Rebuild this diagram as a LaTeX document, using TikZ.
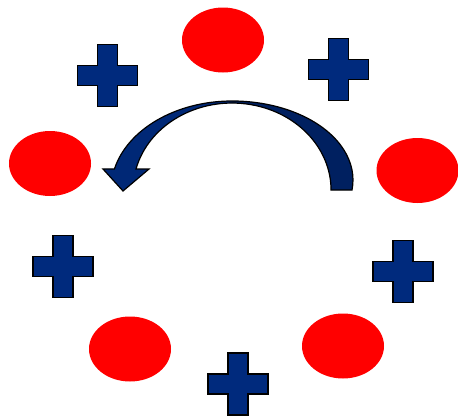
\documentclass[tikz,border=0pt]{standalone}
\usetikzlibrary{shapes.geometric}
\definecolor{dotred}{RGB}{255,0,0}
\definecolor{crossblue}{RGB}{0,42,125}
\definecolor{arrowfront}{RGB}{0,40,118}
\definecolor{arrowback}{RGB}{0,32,96}
\tikzset{
  reddot/.style={ellipse, fill=dotred, draw=none, inner sep=0pt, minimum width=82pt, minimum height=65pt},
  crosssign/.pic={
    \draw[fill=crossblue, draw=black, line width=1.2pt, line join=miter]
      (-10,-31) -- (10,-31) -- (10,-10) -- (30,-10) -- (30,10) -- (10,10) -- (10,31)
      -- (-10,31) -- (-10,10) -- (-30,10) -- (-30,-10) -- (-10,-10) -- cycle;
  }
}
\begin{document}
\begin{tikzpicture}[x=1pt,y=-1pt]
\useasboundingbox (0,0) rectangle (458,418);
% red dots
\node[reddot] (etop) at (223,40) {};
\node[reddot] (eleft) at (50,163.5) {};
\node[reddot] (eright) at (417.5,170.5) {};
\node[reddot] (ebl) at (130,349) {};
\node[reddot] (ebr) at (343,346) {};
% crosses
\pic (ctl) at (107.5,75.5) {crosssign};
\pic (ctr) at (338.5,69.5) {crosssign};
\pic (cl) at (63,266.5) {crosssign};
\pic (cr) at (403,271.5) {crosssign};
\pic (cb) at (238,384) {crosssign};
% curved arrow
\coordinate (atop) at (232,101);
% back (right) part
\fill[arrowback] (atop) arc[start angle=-90, end angle=7.3, x radius=121, y radius=79]
  -- (331,190) arc[start angle=0, end angle=-90, x radius=99, y radius=87] -- cycle;
% front (left) part with head
\fill[arrowfront] (atop) arc[start angle=-90, end angle=-166.3, x radius=121, y radius=89]
  -- (103,169) -- (123,191) -- (149,169) -- (136,169)
  arc[start angle=-166, end angle=-90, x radius=99, y radius=87] -- cycle;
% outline
\draw[black, line width=1.2pt, line join=miter]
  (atop) arc[start angle=-90, end angle=-166.3, x radius=121, y radius=89]
  -- (103,169) -- (123,191) -- (149,169) -- (136,169)
  arc[start angle=-166, end angle=0, x radius=99, y radius=87]
  -- (352,190) arc[start angle=7.3, end angle=-90, x radius=121, y radius=79] -- cycle;
\end{tikzpicture}
\end{document}
